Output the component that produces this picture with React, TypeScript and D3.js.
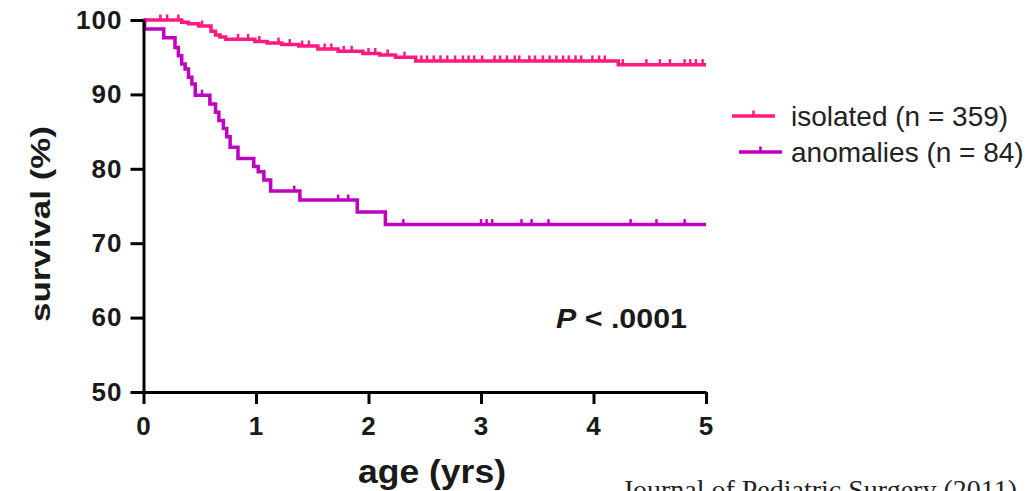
import { useEffect, useRef } from 'react';
import * as d3 from 'd3';

// Kaplan-Meier steps (time in years, survival in %)
const isolatedTimes = [0, 0.34, 0.4, 0.49, 0.6, 0.64, 0.68, 0.73, 0.99, 1.1, 1.23, 1.38, 1.55, 1.73, 1.95, 2.1, 2.24, 2.42, 4.22];
const isolatedSurvival = [100, 99.7, 99.5, 99.2, 98.5, 98.0, 97.7, 97.4, 97.1, 96.9, 96.7, 96.5, 96.1, 95.8, 95.5, 95.3, 95.0, 94.5, 94.0];
const isolatedCensored = [
  0.15, 0.21, 0.31, 0.52, 0.84, 0.93, 1.03, 1.2, 1.3, 1.41, 1.47, 1.61, 1.67, 1.78, 1.85, 2.0, 2.06, 2.17,
  2.32, 2.47, 2.52, 2.58, 2.64, 2.7, 2.77, 2.84, 2.89, 2.94, 3.01, 3.12, 3.17, 3.23, 3.3, 3.34, 3.43, 3.48,
  3.55, 3.61, 3.67, 3.73, 3.78, 3.84, 3.89, 3.99, 4.05, 4.1, 4.26, 4.47, 4.59, 4.68, 4.81, 4.86, 4.91, 4.97,
];

const anomaliesTimes = [0, 0.01, 0.18, 0.28, 0.31, 0.34, 0.37, 0.4, 0.43, 0.46, 0.59, 0.64, 0.67, 0.71, 0.74, 0.77, 0.84, 0.98, 1.02, 1.07, 1.13, 1.39, 1.9, 2.15];
const anomaliesSurvival = [100, 98.8, 97.6, 96.3, 95.2, 94.1, 93.4, 92.3, 91.4, 89.9, 88.7, 87.6, 86.5, 85.4, 84.3, 82.9, 81.4, 80.3, 79.6, 78.5, 77.0, 75.8, 74.2, 72.5];
const anomaliesCensored = [0.52, 1.34, 1.73, 1.82, 2.31, 3.0, 3.05, 3.1, 3.36, 3.45, 3.6, 4.33, 4.56, 4.81];

const seriesNames = ['isolated (n = 359)', 'anomalies (n = 84)'];
const seriesColors = ['#ff1a80', '#c000c0'];

const xTicks = [0, 1, 2, 3, 4, 5];
const yTicks = [50, 60, 70, 80, 90, 100];

const App = () => {
  const svgRef = useRef<SVGSVGElement>(null);

  useEffect(() => {
    document.body.style.margin = '0';
    const svg = d3.select(svgRef.current);
    svg.selectAll('*').remove();

    const x = d3.scaleLinear().domain([0, 5]).range([143.5, 706]);
    const y = d3.scaleLinear().domain([50, 100]).range([392, 20]);
    const ink = '#1a1a1a';
    const sans = '"Liberation Sans", Arial, sans-serif';

    const series = [
      { times: isolatedTimes, surv: isolatedSurvival, cens: isolatedCensored },
      { times: anomaliesTimes, surv: anomaliesSurvival, cens: anomaliesCensored },
    ];

    const line = d3.line<[number, number]>()
      .x(d => x(d[0]))
      .y(d => y(d[1]))
      .curve(d3.curveStepAfter);

    series.forEach((s, i) => {
      const pts: [number, number][] = s.times.map((t, j) => [t, s.surv[j]]);
      pts.push([5, s.surv[s.surv.length - 1]]);
      svg.append('path')
        .attr('d', line(pts))
        .attr('fill', 'none')
        .attr('stroke', seriesColors[i])
        .attr('stroke-width', 3.5);

      // censor ticks
      const bis = d3.bisector((t: number) => t).right;
      svg.append('g')
        .selectAll('line')
        .data(s.cens)
        .enter()
        .append('line')
        .attr('x1', t => x(t))
        .attr('x2', t => x(t))
        .attr('y1', t => y(s.surv[bis(s.times, t) - 1]))
        .attr('y2', t => y(s.surv[bis(s.times, t) - 1]) - 5.5)
        .attr('stroke', seriesColors[i])
        .attr('stroke-width', 2.5);
    });

    // axes
    const gx = svg.append('g')
      .attr('transform', `translate(0,${y(50)})`)
      .call(d3.axisBottom(x).tickValues(xTicks).tickFormat(d3.format('d')).tickSize(12).tickSizeOuter(0).tickPadding(13));
    const gy = svg.append('g')
      .attr('transform', `translate(${x(0)},0)`)
      .call(d3.axisLeft(y).tickValues(yTicks).tickFormat(d3.format('d')).tickSize(13).tickSizeOuter(0).tickPadding(8));

    [gx, gy].forEach(g => {
      g.select('.domain').attr('stroke', '#000').attr('stroke-width', 3);
      g.selectAll('.tick line').attr('stroke', '#000').attr('stroke-width', 3);
      g.selectAll('.tick text')
        .attr('fill', ink)
        .attr('font-family', sans)
        .attr('font-weight', 'bold')
        .attr('font-size', '26px')
        .attr('letter-spacing', '1px');
    });

    // axis titles
    svg.append('text')
      .attr('transform', `translate(50,${(y(100) + y(50)) / 2 + 18}) rotate(-90)`)
      .attr('text-anchor', 'middle')
      .attr('font-family', sans)
      .attr('font-weight', 'bold')
      .attr('font-size', '27px')
      .attr('textLength', 196)
      .attr('lengthAdjust', 'spacingAndGlyphs')
      .attr('fill', ink)
      .text('survival (%)');

    svg.append('text')
      .attr('x', 358)
      .attr('y', 483)
      .attr('font-family', sans)
      .attr('font-weight', 'bold')
      .attr('font-size', '33px')
      .attr('textLength', 148)
      .attr('lengthAdjust', 'spacingAndGlyphs')
      .attr('fill', ink)
      .text('age (yrs)');

    // p value
    const p = svg.append('text')
      .attr('x', 556)
      .attr('y', 328)
      .attr('font-family', sans)
      .attr('font-weight', 'bold')
      .attr('font-size', '28px')
      .attr('textLength', 131)
      .attr('lengthAdjust', 'spacingAndGlyphs')
      .attr('fill', ink);
    p.append('tspan').attr('font-style', 'italic').text('P');
    p.append('tspan').text(' < .0001');

    // legend
    const legendY = [116, 152];
    const legendX0 = [732, 739];
    seriesNames.forEach((name, i) => {
      const g = svg.append('g');
      g.append('line')
        .attr('x1', legendX0[i]).attr('x2', legendX0[i] + 43)
        .attr('y1', legendY[i]).attr('y2', legendY[i])
        .attr('stroke', seriesColors[i]).attr('stroke-width', 3.5);
      g.append('line')
        .attr('x1', legendX0[i] + 21.5).attr('x2', legendX0[i] + 21.5)
        .attr('y1', legendY[i]).attr('y2', legendY[i] - 5.5)
        .attr('stroke', seriesColors[i]).attr('stroke-width', 2.5);
      g.append('text')
        .attr('x', 791)
        .attr('y', legendY[i] + 10)
        .attr('font-family', sans)
        .attr('font-size', '28px')
        .attr('fill', '#222')
        .text(name);
    });

    // source caption, cut by the bottom edge as in the source image
    svg.append('text')
      .attr('x', 622)
      .attr('y', 499)
      .attr('font-family', '"Liberation Serif", "Times New Roman", serif')
      .attr('font-size', '28px')
      .attr('fill', '#222')
      .text('Journal of Pediatric Surgery (2011)');
  }, []);

  return <svg ref={svgRef} width={1035} height={491} style={{ display: 'block' }} />;
};

export default App;
